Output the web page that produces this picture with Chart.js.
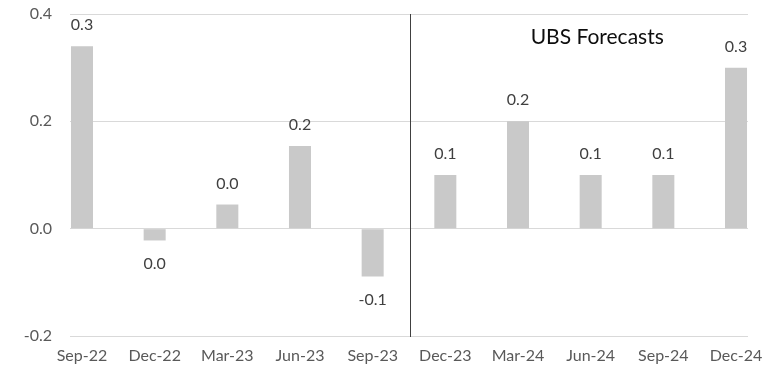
<!DOCTYPE html>
<html>
<head>
<meta charset="utf-8">
<script src="https://cdn.jsdelivr.net/npm/chart.js@4.4.0/dist/chart.umd.min.js"></script>
<style>
  html, body { margin: 0; padding: 0; background: #fff; }
  #wrap { width: 779px; height: 373px; }
</style>
</head>
<body>
<div id="wrap"><canvas id="c" width="779" height="373"></canvas></div>
<script>
const categories = ['Sep-22','Dec-22','Mar-23','Jun-23','Sep-23','Dec-23','Mar-24','Jun-24','Sep-24','Dec-24'];
const values = [0.34, -0.022, 0.045, 0.154, -0.089, 0.1, 0.2, 0.1, 0.1, 0.3];
const yTicks = [-0.2, 0.0, 0.2, 0.4];
const forecastDivider = 4.52;
const forecastLabel = 'UBS Forecasts';
const forecastLabelPos = { x: 7.09, y: 0.357 };

const FONT = 'Lato';

function fmt(v) {
  let s = v.toFixed(1);
  if (s === '-0.0') s = '0.0';
  return s;
}

const extras = {
  id: 'extras',
  afterDatasetsDraw(chart) {
    const ctx = chart.ctx;
    const xs = chart.scales.x, ys = chart.scales.y;
    const area = chart.chartArea;
    ctx.save();
    // divider line
    const dx = Math.round(xs.getPixelForValue(forecastDivider)) + 0.5;
    ctx.strokeStyle = '#404040';
    ctx.lineWidth = 1;
    ctx.beginPath();
    ctx.moveTo(dx, area.top);
    ctx.lineTo(dx, area.bottom + 1);
    ctx.stroke();
    // data labels
    ctx.font = '16px ' + FONT;
    ctx.fillStyle = '#404040';
    ctx.textAlign = 'center';
    ctx.textBaseline = 'middle';
    const meta = chart.getDatasetMeta(0);
    meta.data.forEach((bar, i) => {
      const v = values[i];
      const y = v >= 0 ? bar.y - 21 : bar.y + 23;
      ctx.fillText(fmt(v), bar.x, y);
    });
    // annotation
    ctx.font = '21px ' + FONT;
    ctx.fillStyle = '#0d0d0d';
    ctx.fillText(forecastLabel, xs.getPixelForValue(forecastLabelPos.x), ys.getPixelForValue(forecastLabelPos.y));
    ctx.restore();
  }
};

new Chart(document.getElementById('c'), {
  type: 'bar',
  data: {
    datasets: [{
      data: values.map((v, i) => ({ x: i, y: v })),
      backgroundColor: '#c9c9c9',
      borderWidth: 0,
      barPercentage: 0.303,
      categoryPercentage: 1.0
    }]
  },
  options: {
    responsive: false,
    animation: false,
    events: [],
    layout: { padding: { top: 14, right: 31, bottom: 8, left: 0 } },
    plugins: { legend: { display: false }, tooltip: { enabled: false } },
    scales: {
      x: {
        type: 'linear',
        offset: false,
        min: -0.165,
        max: 9.165,
        grid: { display: false, offset: false, drawTicks: false },
        border: { display: false },
        afterBuildTicks(scale) {
          scale.ticks = categories.map((c, i) => ({ value: i }));
        },
        afterFit(scale) { scale.height = 29; scale.paddingLeft = 0; scale.paddingRight = 0; },
        ticks: {
          autoSkip: false,
          maxRotation: 0,
          padding: 10,
          color: '#595959',
          font: { family: FONT, size: 16 },
          callback: (v) => categories[v] ?? ''
        }
      },
      y: {
        min: -0.2,
        max: 0.4,
        afterBuildTicks(scale) {
          scale.ticks = yTicks.map(v => ({ value: v }));
        },
        afterFit(scale) { scale.width = 70; scale.paddingTop = 0; scale.paddingBottom = 0; },
        grid: { color: '#d9d9d9', lineWidth: 1, drawTicks: false },
        border: { display: false },
        ticks: {
          padding: 18,
          color: '#595959',
          font: { family: FONT, size: 16 },
          callback: (v) => v.toFixed(1)
        }
      }
    }
  },
  plugins: [extras]
});
</script>
</body>
</html>
